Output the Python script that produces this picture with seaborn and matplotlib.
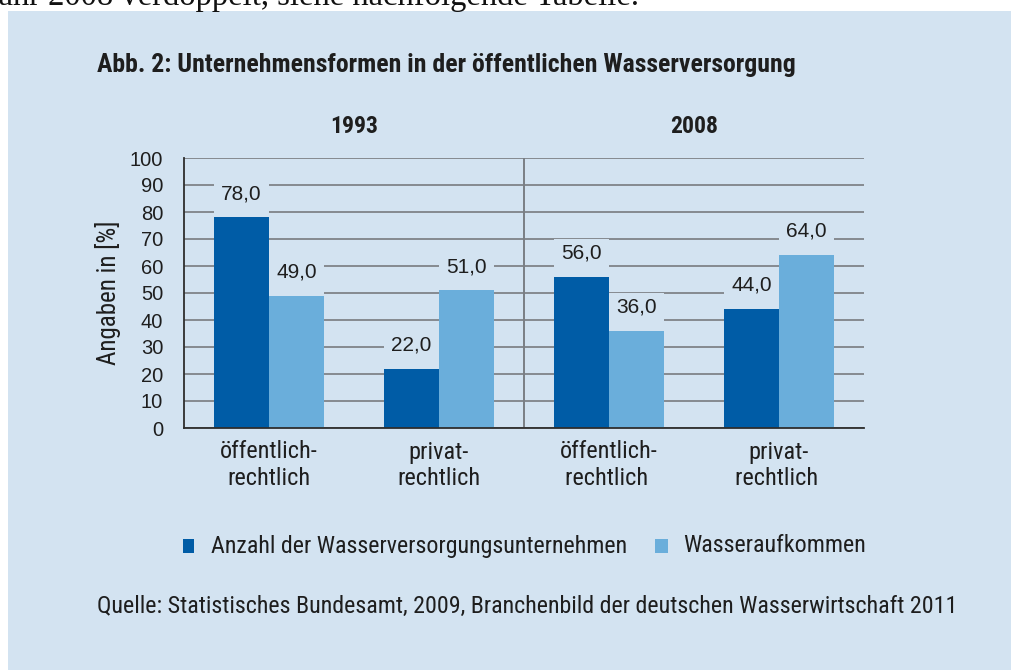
import matplotlib
matplotlib.use("Agg")
import matplotlib.pyplot as plt
from matplotlib.patches import Rectangle
import seaborn as sns
import pandas as pd

# ---- data ----
years = ["1993", "2008"]
categories = ["öffentlich-\nrechtlich", "privat-\nrechtlich",
              "öffentlich-\nrechtlich ", "privat-\nrechtlich "]
series_names = ["Anzahl der Wasserversorgungsunternehmen", "Wasseraufkommen"]
anzahl = [78.0, 22.0, 56.0, 44.0]
aufkommen = [49.0, 51.0, 36.0, 64.0]
yticks = [0, 10, 20, 30, 40, 50, 60, 70, 80, 90, 100]

title = "Abb. 2: Unternehmensformen in der öffentlichen Wasserversorgung"
ylabel = "Angaben in [%]"
source = "Quelle: Statistisches Bundesamt, 2009, Branchenbild der deutschen Wasserwirtschaft 2011"
top_text = "Jahr 2008 verdoppelt, siehe nachfolgende Tabelle."

BG = "#D3E3F1"
DARK = "#005CA6"
LIGHT = "#6AAEDB"
GRID = "#858A90"
AXC = "#2E2E2E"
TXT = "#1E1E1E"

NARROW = ["Roboto Condensed", "Liberation Sans Narrow", "Roboto", "DejaVu Sans"]
ARIAL = ["Liberation Sans", "DejaVu Sans"]

df = pd.DataFrame({
    "cat": categories * 2,
    "val": anzahl + aufkommen,
    "series": [series_names[0]] * 4 + [series_names[1]] * 4,
})

sns.set_style("white")
W, H = 1011, 670
fig = plt.figure(figsize=(W / 100, H / 100), dpi=100)
fig.patch.set_facecolor("white")
fig.patches.append(Rectangle((8 / W, 0), 1 - 8 / W, 1 - 11 / H, transform=fig.transFigure,
                             facecolor=BG, edgecolor="none", zorder=-5))

ax = fig.add_axes([184 / W, 1 - 428 / H, 680 / W, 270 / H])
ax.set_zorder(2)
ax.patch.set_alpha(0)

sns.barplot(data=df, x="cat", y="val", hue="series", hue_order=series_names,
            palette=[DARK, LIGHT], width=0.645, gap=0, ax=ax, legend=False,
            saturation=1, edgecolor="none", linewidth=0, zorder=2)

ax.set_xlim(-0.5, 3.5)
ax.set_ylim(0, 100)
ax.set_yticks(yticks)
ax.set_yticklabels([str(v) for v in yticks], fontfamily=ARIAL, fontsize=14.5, color=TXT)
ax.set_xticks([-0.5, 0.5, 1.5, 2.5, 3.5], minor=False)
ax.set_xticklabels([])
ax.set_xticks([0, 1, 2, 3], minor=True)
ax.set_xticklabels(categories, minor=True, fontfamily=NARROW, fontsize=17.5, color=TXT,
                   linespacing=1.2)
ax.tick_params(axis="x", which="minor", length=0, pad=9)
ax.tick_params(axis="x", which="major", length=11, width=1.2, color=AXC, direction="out")
ax.tick_params(axis="y", length=10, width=1.2, color=AXC, direction="out", pad=5)
ax.set_xlabel("")
ax.set_ylabel(ylabel, fontfamily=NARROW, fontsize=18, color=TXT, labelpad=6)

ax.set_axisbelow(True)
ax.yaxis.grid(True, color=GRID, linewidth=1.4, zorder=0)
ax.xaxis.grid(False)
for s in ["top", "right"]:
    ax.spines[s].set_visible(False)
ax.spines["left"].set_color(AXC)
ax.spines["left"].set_linewidth(1.3)
ax.spines["bottom"].set_color(AXC)
ax.spines["bottom"].set_linewidth(1.3)
ax.spines["bottom"].set_zorder(3)
ax.axvline(1.5, ymin=0, ymax=1, color="#7A7F85", linewidth=1.4, zorder=1)

# value labels with background masks
for p in ax.patches:
    h = p.get_height()
    if h <= 0:
        continue
    x = p.get_x()
    w = p.get_width()
    ax.add_patch(Rectangle((x, h), w, 14, facecolor=BG, edgecolor="none", zorder=1.5))
    ax.text(x + w / 2, h + 8.8, f"{h:.1f}".replace(".", ","), ha="center", va="center",
            fontfamily=ARIAL, fontsize=15, color=TXT, zorder=3)

# year headers
for i, yr in enumerate(years):
    ax.text(0.5 + 2 * i, 1.115, yr, transform=ax.get_xaxis_transform(), ha="center",
            va="center", fontfamily=NARROW, fontweight="bold", fontsize=17, color=TXT)

# title
fig.text(97 / W, 1 - 65 / H, title, ha="left", va="center", fontfamily=NARROW,
         fontweight="bold", fontsize=18.5, color=TXT)

# legend
fig.patches.append(Rectangle((183 / W, 1 - 553 / H), 11 / W, 14 / H, transform=fig.transFigure,
                             facecolor=DARK, edgecolor="none"))
fig.text(211 / W, 1 - 546 / H, series_names[0], ha="left", va="center", fontfamily=NARROW,
         fontsize=17.3, color=TXT)
fig.patches.append(Rectangle((655 / W, 1 - 553 / H), 13 / W, 14 / H, transform=fig.transFigure,
                             facecolor=LIGHT, edgecolor="none"))
fig.text(683 / W, 1 - 546 / H, series_names[1], ha="left", va="center", fontfamily=NARROW,
         fontsize=17.3, color=TXT)

# source
fig.text(97 / W, 1 - 606 / H, source, ha="left", va="center", fontfamily=NARROW,
         fontsize=17.3, color=TXT)

# cut-off text on top
fig.text(-14 / W, 1 - 5 / H, top_text, ha="left", va="baseline",
         fontfamily=["Liberation Serif", "DejaVu Serif"], fontsize=23.5, color="#111111")

fig.savefig("out.png", dpi=100, facecolor="white")
